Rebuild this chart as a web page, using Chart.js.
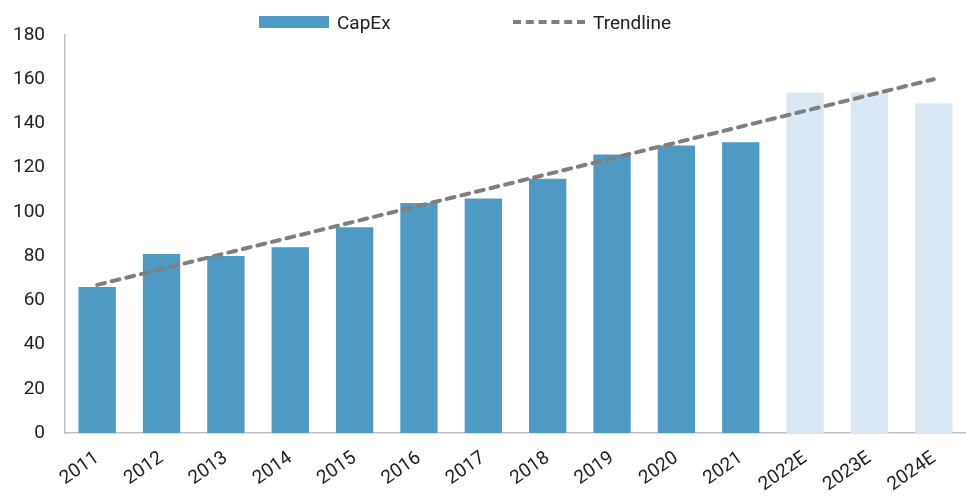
<!DOCTYPE html>
<html>
<head>
<meta charset="utf-8">
<script src="https://cdn.jsdelivr.net/npm/chart.js@4/dist/chart.umd.min.js"></script>
<style>
  html, body { margin: 0; padding: 0; background: #fff; }
  #wrap { position: relative; width: 966px; height: 497px; }
  #legend {
    position: absolute; top: 10px; left: 0; width: 966px; height: 24px;
    font-family: Roboto, "Noto Sans", sans-serif; font-size: 19px; color: #222;
  }
  .item { position: absolute; top: 0; display: flex; align-items: center; height: 24px; }
  .swatch-bar { width: 70px; height: 12px; background: #4E9AC2; margin-right: 8px; }
  .swatch-line { width: 72px; height: 0; border-top: 4px dashed #7F7F7F; margin-right: 8px; }
</style>
</head>
<body>
<div id="wrap">
  <canvas id="capexChart" width="966" height="497"></canvas>
  <div id="legend">
    <div class="item" style="left:259px"><span class="swatch-bar"></span>CapEx</div>
    <div class="item" style="left:513px"><span class="swatch-line"></span>Trendline</div>
  </div>
</div>
<script>
// Năm và giá trị CapEx
const years = ['2011', '2012', '2013', '2014', '2015', '2016', '2017', '2018', '2019', '2020', '2021', '2022E', '2023E', '2024E'];
const capex = [66, 81, 80, 84, 93, 104, 106, 115, 126, 130, 131.5, 154, 154, 149];
// Đường xu hướng: chỉ điểm đầu và điểm cuối
const trend = [67, null, null, null, null, null, null, null, null, null, null, null, null, 160];
const yTicks = [0, 20, 40, 60, 80, 100, 120, 140, 160, 180];

const barColors = years.map(y => y.endsWith('E') ? '#DAE8F3' : '#4E9AC2');

const ctx = document.getElementById('capexChart').getContext('2d');

new Chart(ctx, {
    type: 'bar',
    data: {
        labels: years,
        datasets: [{
            type: 'line',
            label: 'Trendline',
            data: trend,
            borderColor: '#7F7F7F',
            borderWidth: 4,
            borderDash: [8, 7],
            borderCapStyle: 'round',
            pointRadius: 0,
            spanGaps: true,
            fill: false,
            order: 0
        }, {
            label: 'CapEx',
            data: capex,
            backgroundColor: barColors,
            barPercentage: 0.58,
            categoryPercentage: 1,
            order: 1
        }]
    },
    options: {
        responsive: false,
        animation: false,
        layout: { padding: { top: 35, left: 12, right: 0, bottom: 0 } },
        scales: {
            y: {
                min: 0,
                max: 180,
                afterBuildTicks: axis => { axis.ticks = yTicks.map(v => ({ value: v })); },
                afterFit: s => { s.width = 53; },
                grid: { display: false, drawTicks: false },
                border: { color: '#BFBFBF', width: 1.5 },
                ticks: { color: '#222', padding: 20, font: { family: 'Roboto', size: 19 } }
            },
            x: {
                // nhãn xoay không được đẩy vùng vẽ
                afterFit: s => { s.paddingLeft = 0; s.paddingRight = 0; s.height = 64; },
                grid: { display: false, drawTicks: false },
                border: { color: '#BFBFBF', width: 1.5 },
                ticks: {
                    color: '#222', padding: 14, minRotation: 35, maxRotation: 35,
                    font: { family: 'Roboto', size: 19 }
                }
            }
        },
        plugins: {
            legend: { display: false },
            tooltip: { enabled: false }
        }
    }
});
</script>
</body>
</html>
